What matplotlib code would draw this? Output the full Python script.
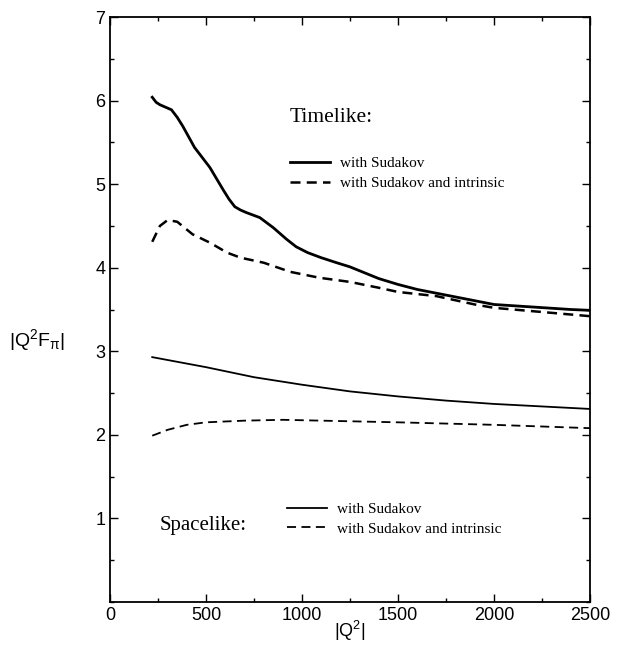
import matplotlib
matplotlib.use("Agg")
import matplotlib.pyplot as plt
from matplotlib.ticker import MultipleLocator

plt.rcParams['mathtext.fontset'] = 'custom'
plt.rcParams['mathtext.rm'] = 'Liberation Sans'
plt.rcParams['mathtext.it'] = 'Liberation Sans'
plt.rcParams['mathtext.default'] = 'regular'

# Timelike, with Sudakov
tl_x = [220, 240, 260, 290, 320, 350, 380, 440, 520, 590, 620, 650, 680, 710, 780, 850, 920, 970, 1030, 1100, 1180, 1250, 1400, 1500, 1600, 1800, 2000, 2200, 2400, 2500]
tl_sud = [6.04, 5.98, 5.95, 5.92, 5.89, 5.80, 5.69, 5.44, 5.20, 4.93, 4.82, 4.73, 4.69, 4.66, 4.60, 4.48, 4.34, 4.25, 4.18, 4.12, 4.06, 4.01, 3.87, 3.80, 3.74, 3.65, 3.56, 3.53, 3.50, 3.49]
# Timelike, with Sudakov and intrinsic
tl_x2 = [220, 260, 300, 350, 430, 520, 610, 680, 800, 940, 1090, 1250, 1400, 1500, 1700, 1900, 2000, 2200, 2500]
tl_int = [4.31, 4.50, 4.57, 4.55, 4.40, 4.30, 4.18, 4.12, 4.06, 3.95, 3.88, 3.83, 3.76, 3.71, 3.66, 3.56, 3.52, 3.48, 3.42]
# Spacelike, with Sudakov
sl_x = [220, 500, 750, 1000, 1250, 1500, 1750, 2000, 2250, 2500]
sl_sud = [2.93, 2.81, 2.69, 2.60, 2.52, 2.46, 2.41, 2.37, 2.34, 2.31]
# Spacelike, with Sudakov and intrinsic
sl_x2 = [220, 300, 400, 500, 700, 900, 1100, 1500, 2000, 2500]
sl_int = [1.99, 2.06, 2.12, 2.15, 2.17, 2.18, 2.17, 2.15, 2.12, 2.08]

xticks = [0, 500, 1000, 1500, 2000, 2500]
yticks = [1, 2, 3, 4, 5, 6, 7]

fig = plt.figure(figsize=(6.18, 6.48), dpi=100)
ax = fig.add_axes([110/618, 1-602/648, 480/618, 585/648])

l1, = ax.plot(tl_x, tl_sud, color='black', lw=2.0, label='with Sudakov')
l2, = ax.plot(tl_x2, tl_int, color='black', lw=1.8, ls=(0, (4, 2.5)), label='with Sudakov and intrinsic')
l3, = ax.plot(sl_x, sl_sud, color='black', lw=1.3, label='with Sudakov')
l4, = ax.plot(sl_x2, sl_int, color='black', lw=1.3, ls=(0, (5, 3)), label='with Sudakov and intrinsic')

ax.set_xlim(0, 2500)
ax.set_ylim(0, 7)
ax.set_xticks(xticks)
ax.set_yticks(yticks)
ax.xaxis.set_minor_locator(MultipleLocator(250))
ax.yaxis.set_minor_locator(MultipleLocator(0.5))
ax.tick_params(which='both', direction='in', top=True, right=True, labelsize=13)
ax.tick_params(which='major', length=6, width=1)
ax.tick_params(which='minor', length=3, width=1)
for lab in ax.get_xticklabels() + ax.get_yticklabels():
    lab.set_family('Liberation Sans')
for s in ax.spines.values():
    s.set_linewidth(1.3)

ax.set_xlabel('$|Q^2|$', fontsize=13, family='Liberation Sans', va='center')
ax.xaxis.set_label_coords(0.5, -0.05)
ax.set_ylabel('$|Q^2F_\\pi|$', fontsize=14, rotation=0, family='Liberation Sans', ha='center', va='center')
ax.yaxis.set_label_coords(-0.152, 0.448)

serif = 'Liberation Serif'
ax.text(937, 5.8, 'Timelike:', fontsize=15.5, family=serif, va='center', ha='left')
leg1 = ax.legend(handles=[l1, l2], loc='upper left', bbox_to_anchor=(0.3625, 0.7716),
                 frameon=False, prop={'family': serif, 'size': 11}, handlelength=2.6,
                 handletextpad=0.65, labelspacing=0.4, borderaxespad=0)
ax.add_artist(leg1)
ax.text(260, 0.92, 'Spacelike:', fontsize=15, family=serif, va='center', ha='left')
leg2 = ax.legend(handles=[l3, l4], loc='upper left', bbox_to_anchor=(0.356, 0.181),
                 frameon=False, prop={'family': serif, 'size': 11}, handlelength=2.6,
                 handletextpad=0.65, labelspacing=0.4, borderaxespad=0)

fig.savefig('out.png', dpi=100)
